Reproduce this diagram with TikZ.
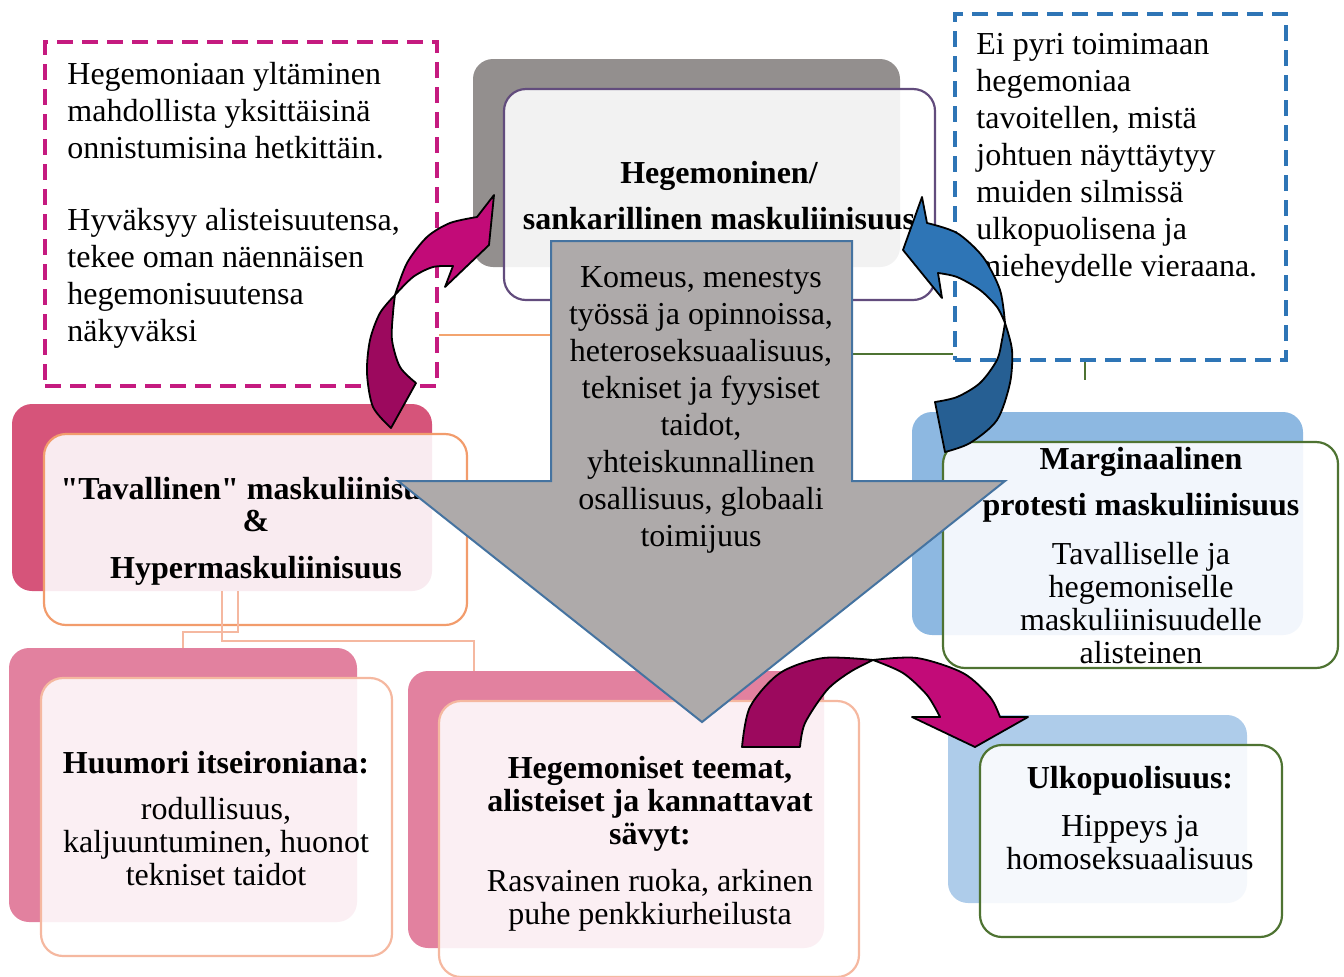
\documentclass[tikz,border=0pt]{standalone}
\usepackage{fontspec}
\setmainfont{Liberation Serif}[Ligatures=TeXOff]
\usetikzlibrary{calc, positioning}

\definecolor{notepink}{HTML}{C51A7F}
\definecolor{noteblue}{HTML}{2E75B6}
\definecolor{hegback}{HTML}{938F8E}
\definecolor{hegtint}{HTML}{F2F2F2}
\definecolor{hegline}{HTML}{624C7D}
\definecolor{tavback}{HTML}{D6547A}
\definecolor{tavtint}{HTML}{F9EBF0}
\definecolor{tavline}{HTML}{F29C6C}
\definecolor{marback}{HTML}{8DB8E1}
\definecolor{martint}{HTML}{F2F6FC}
\definecolor{greenline}{HTML}{4E7332}
\definecolor{pinkback}{HTML}{E2819F}
\definecolor{pinktint}{HTML}{FBEFF3}
\definecolor{salmonline}{HTML}{F5B8A0}
\definecolor{ulkback}{HTML}{AECCEA}
\definecolor{ulktint}{HTML}{F5F8FC}
\definecolor{arrowfill}{HTML}{AEAAAA}
\definecolor{arrowline}{HTML}{4573A0}
\definecolor{orangeline}{HTML}{F3A46F}
\definecolor{magbright}{HTML}{C20B78}
\definecolor{magdark}{HTML}{9C095E}
\definecolor{bluebright}{HTML}{2E75B6}
\definecolor{bluedark}{HTML}{265F93}

% light overlap of the front box over its back box, then the front outline
\newcommand{\boxtint}[4]{%
  \begin{scope}
    \clip[rounded corners=11pt] (#1.south west) rectangle (#1.north east);
    \fill[#3, rounded corners=10pt] (#2.south west) rectangle (#2.north east);
  \end{scope}
  \draw[#4, line width=1.1pt, rounded corners=11pt] (#1.south west) rectangle (#1.north east);}

\begin{document}
\begin{tikzpicture}[
        x=0.5pt, y=-0.5pt,
        backbox/.style = {rectangle, rounded corners=10pt, inner sep=0pt, outer sep=0pt},
        frontbox/.style = {rectangle, rounded corners=11pt, fill=white, inner sep=0pt, outer sep=0pt},
        notebox/.style = {rectangle, line width=1.8pt, dash pattern=on 8pt off 4.5pt, inner sep=0pt},
        note/.style = {font=\fontsize{16}{18.5}\selectfont, inner sep=0pt, align=left, anchor=west},
        body/.style = {font=\fontsize{16}{16.5}\selectfont, inner sep=0pt, align=center},
        head/.style = {font=\bfseries\fontsize{16}{16.5}\selectfont, inner sep=0pt, align=center},
        bigarrow/.style = {fill=arrowfill, draw=arrowline, line width=1pt, line join=miter},
        curved/.style = {draw=black, line width=0.9pt, line join=round},
        ]
        \useasboundingbox (0,0) rectangle (1344,976);

        % big arrow corners
        \coordinate (shaftNW) at (551,241);
        \coordinate (shaftNE) at (852,241);
        \coordinate (headL) at (398,481);
        \coordinate (headR) at (1005,481);
        \coordinate (tip) at (702,722);

        % dashed notes
        \node [notebox, draw=notepink, minimum width=196pt, minimum height=172pt] (noteL) at (241,214) {};
        \node [note] (noteLa) at (67,111) {Hegemoniaan yltäminen\\mahdollista yksittäisinä\\onnistumisina hetkittäin.};
        \node [note] (noteLb) at (67,278) {Hyväksyy alisteisuutensa,\\tekee oman näennäisen\\hegemonisuutensa\\näkyväksi};
        \node [notebox, draw=noteblue, minimum width=165.5pt, minimum height=173pt] (noteR) at (1120.5,187) {};
        \node [note] (noteRa) at (976,158) {Ei pyri toimimaan\\hegemoniaa\\tavoitellen, mistä\\johtuen näyttäytyy\\muiden silmissä\\ulkopuolisena ja\\mieheydelle vieraana.};

        % upper boxes
        \node [backbox, fill=hegback, minimum width=213.5pt, minimum height=104pt] (hegB) at (686.5,163) {};
        \node [frontbox, minimum width=215.5pt, minimum height=105.5pt] (hegF) at (719.5,194.5) {};
        \boxtint{hegF}{hegB}{hegtint}{hegline}
        \node [head, font=\bfseries\fontsize{16}{23}\selectfont] (hegT) at (719,196) {Hegemoninen/\\sankarillinen maskuliinisuus};

        \node [backbox, fill=tavback, minimum width=210pt, minimum height=93.5pt] (tavB) at (222,497.5) {};
        \node [frontbox, minimum width=211.5pt, minimum height=95.5pt] (tavF) at (255.5,529.5) {};
        \boxtint{tavF}{tavB}{tavtint}{tavline}
        \node [head, font=\bfseries\fontsize{16}{16}\selectfont] (tavT) at (256,531) {"Tavallinen" maskuliinisuus\\\&\\[7.5pt]Hypermaskuliinisuus};

        \node [backbox, fill=marback, minimum width=195.5pt, minimum height=111.5pt] (marB) at (1107.5,523.5) {};
        \node [frontbox, minimum width=197.5pt, minimum height=113pt] (marF) at (1140.5,555) {};
        \boxtint{marF}{marB}{martint}{greenline}
        \node [head, font=\bfseries\fontsize{16}{23}\selectfont] (marT) at (1141,485) {Marginaalinen\\protesti maskuliinisuus};
        \node [body] (marS) at (1141,603) {Tavalliselle ja\\hegemoniselle\\maskuliinisuudelle\\alisteinen};

        % connectors
        \draw [orangeline, line width=1.1pt] (noteL.east |- 0,335) -- (shaftNW |- 0,335);
        \draw [greenline, line width=1.1pt] (shaftNE |- 0,354) -- (noteR.west |- 0,354);
        \draw [greenline, line width=1.1pt] (noteR.south -| 1085,0) -- ++(0,18);

        % lower boxes
        \node [backbox, fill=pinkback, minimum width=174pt, minimum height=137pt] (huB) at (183,785) {};
        \node [backbox, fill=pinkback, minimum width=208pt, minimum height=138.5pt] (teB) at (616,809.5) {};
        \draw [salmonline, line width=1.1pt] (tavB.south -| 238,0) |- ($(huB.north)+(0,-16)$) -- (huB.north);
        \draw [salmonline, line width=1.1pt] (tavB.south) |- (474,641) -- (teB.north -| 474,0);

        \node [frontbox, minimum width=175.5pt, minimum height=139pt] (huF) at (216.5,817) {};
        \boxtint{huF}{huB}{pinktint}{salmonline}
        \node [head] (huT) at (216,763) {Huumori itseironiana:};
        \node [body] (huS) at (216,842) {rodullisuus,\\kaljuuntuminen, huonot\\tekniset taidot};

        \node [frontbox, minimum width=210pt, minimum height=138pt] (teF) at (649,839) {};
        \boxtint{teF}{teB}{pinktint}{salmonline}
        \node [head] (teT) at (650,804) {Hegemoniset teemat,\\alisteiset ja kannattavat\\sävyt:};
        \node [body] (teS) at (650,900) {Rasvainen ruoka, arkinen\\puhe penkkiurheilusta};

        \node [backbox, fill=ulkback, minimum width=149.5pt, minimum height=94pt] (ulB) at (1097.5,809) {};
        \node [frontbox, minimum width=151pt, minimum height=96pt] (ulF) at (1131,841) {};
        \boxtint{ulF}{ulB}{ulktint}{greenline}
        \node [head] (ulT) at (1130,781) {Ulkopuolisuus:};
        \node [body] (ulS) at (1130,843) {Hippeys ja\\homoseksuaalisuus};

        % big down arrow
        \filldraw [bigarrow] (shaftNW) -- (shaftNE) -- (shaftNE |- headR) -- (headR)
            -- (tip) -- (headL) -- (shaftNW |- headL) -- cycle;
        \node [body, font=\fontsize{16}{18.5}\selectfont] (arrowT) at (701,410) {Komeus, menestys\\työssä ja opinnoissa,\\heteroseksuaalisuus,\\tekniset ja fyysiset\\taidot,\\yhteiskunnallinen\\osallisuus, globaali\\toimijuus};

        % curved arrows
        \filldraw [curved, fill=magdark] (395,295)
            -- plot [smooth] coordinates {(395,295) (380,313) (370,340) (367,373) (373,407) (391,428)}
            -- (416,383)
            -- plot [smooth] coordinates {(416,383) (400,367) (392,340) (393,313) (395,295)} -- cycle;
        \filldraw [curved, fill=magbright] (395,295)
            -- plot [smooth] coordinates {(395,295) (407,263) (427,237) (450,223) (477,217)}
            -- (494,195) -- (489,245) -- (445,287) -- (453,266)
            -- plot [smooth] coordinates {(453,266) (433,267) (413,277) (395,295)} -- cycle;

        \filldraw [curved, fill=bluebright] (1005,323)
            -- plot [smooth] coordinates {(1005,323) (1000,290) (983,257) (957,233) (927,223)}
            -- (922,197) -- (903,250) -- (942,298) -- (938,273)
            -- plot [smooth] coordinates {(938,273) (957,277) (980,290) (997,307) (1005,323)} -- cycle;
        \filldraw [curved, fill=bluedark] (1005,323)
            -- plot [smooth] coordinates {(1005,323) (1012,350) (1010,383) (997,420) (970,443) (945,452)}
            -- (935,402)
            -- plot [smooth] coordinates {(935,402) (957,397) (980,383) (997,360) (1002,340) (1005,323)} -- cycle;

        \filldraw [curved, fill=magdark] (873,660)
            -- plot [smooth] coordinates {(873,660) (823,658) (780,673) (750,707) (742,747)}
            -- (800,747)
            -- plot [smooth] coordinates {(800,747) (805,723) (827,690) (850,672) (873,660)} -- cycle;
        \filldraw [curved, fill=magbright] (873,660)
            -- plot [smooth] coordinates {(873,660) (917,658) (963,673) (990,697) (1000,717)}
            -- (1028,717) -- (975,747) -- (912,717) -- (940,717)
            -- plot [smooth] coordinates {(940,717) (927,695) (903,673) (873,660)} -- cycle;
    \end{tikzpicture}
\end{document}
